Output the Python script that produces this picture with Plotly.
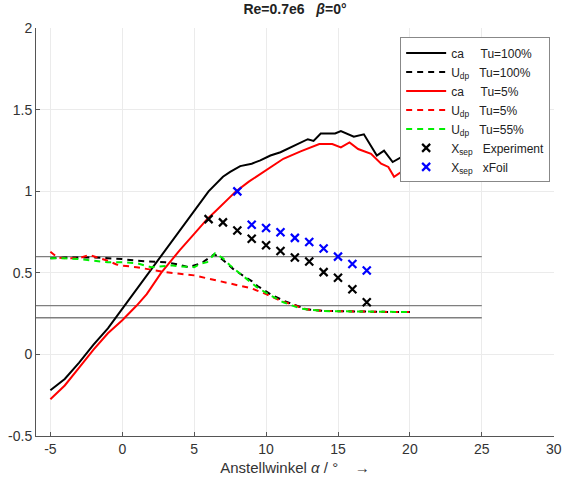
import plotly.graph_objects as go

# --- lift coefficient ca ---
alpha_ca_tu100 = [-5, -4, -3, -2, -1, -0.5, 1, 2, 3, 4, 5, 6, 7, 7.5, 8.2, 9, 9.6, 10.3, 11, 11.5,
                  12, 12.4, 12.9, 13.3, 13.8, 14.8, 15.2, 16.1, 16.8, 17.7, 18.2, 18.8, 19.4, 20]
ca_tu100 = [-0.22, -0.15, -0.05, 0.06, 0.16, 0.22, 0.40, 0.52, 0.64, 0.76, 0.88, 1.00, 1.09, 1.12,
            1.155, 1.17, 1.19, 1.22, 1.24, 1.26, 1.28, 1.30, 1.32, 1.31, 1.355, 1.355, 1.37, 1.335,
            1.35, 1.22, 1.25, 1.18, 1.21, 1.22]

alpha_ca_tu5 = [-5, -4, -3, -2, -1, 0, 1, 1.7, 2.7, 4, 5, 5.9, 6.5, 7.9, 8.8, 9.8, 11.2, 12.4, 13.7,
                14.6, 15.2, 15.8, 16.4, 17.3, 18, 18.5, 18.9, 19.4, 20]
ca_tu5 = [-0.275, -0.19, -0.08, 0.03, 0.13, 0.21, 0.30, 0.37, 0.50, 0.64, 0.74, 0.83, 0.88, 1.00,
          1.06, 1.12, 1.20, 1.245, 1.29, 1.29, 1.27, 1.30, 1.26, 1.23, 1.17, 1.15, 1.09, 1.12, 1.13]

# --- U_dp ---
alpha_udp_tu100 = [-5, -4, -3, -2, -1, 0, 1, 2, 3, 4, 4.6, 5.5, 6.4, 7, 7.7, 8.2, 9, 9.4, 10.3, 11.2,
                   12.1, 12.8, 14, 15, 16, 17, 18, 19, 20]
udp_tu100 = [0.59, 0.595, 0.595, 0.595, 0.59, 0.585, 0.575, 0.57, 0.565, 0.55, 0.535, 0.56, 0.615,
             0.58, 0.525, 0.495, 0.45, 0.42, 0.37, 0.33, 0.30, 0.277, 0.267, 0.265, 0.265, 0.263,
             0.262, 0.26, 0.26]

alpha_udp_tu5 = [-5, -4.5, -4, -3, -2.3, -1.5, -1, -0.4, 0, 1, 2, 3, 4, 5, 6, 7, 7.5, 8, 9, 10, 11,
                 12, 12.8, 14, 15, 16, 17, 18, 19, 20]
udp_tu5 = [0.63, 0.595, 0.59, 0.59, 0.61, 0.59, 0.575, 0.552, 0.545, 0.535, 0.52, 0.505, 0.495,
           0.485, 0.465, 0.445, 0.435, 0.425, 0.405, 0.37, 0.33, 0.30, 0.277, 0.267, 0.265, 0.265,
           0.263, 0.262, 0.26, 0.26]

alpha_udp_tu55 = [-5, -4, -3, -2, -1, 0, 1, 2, 3, 3.5, 4, 5, 5.4, 5.9, 6.45, 7, 7.5, 8.2, 9.35,
                  10.3, 11.2, 12.4, 13.3, 14, 15, 16, 17, 18, 19, 20]
udp_tu55 = [0.59, 0.59, 0.585, 0.575, 0.565, 0.565, 0.56, 0.535, 0.54, 0.546, 0.54, 0.535, 0.556,
            0.566, 0.62, 0.59, 0.546, 0.495, 0.413, 0.362, 0.32, 0.281, 0.27, 0.266, 0.265, 0.264,
            0.263, 0.262, 0.26, 0.26]

# --- separation point X_sep ---
alpha_xsep_exp = [6, 7, 8, 9, 10, 11, 12, 13, 14, 15, 16, 17]
xsep_exp = [0.83, 0.81, 0.76, 0.71, 0.67, 0.635, 0.595, 0.57, 0.505, 0.47, 0.40, 0.32]

alpha_xsep_xfoil = [8, 9, 10, 11, 12, 13, 14, 15, 16, 17]
xsep_xfoil = [1.0, 0.795, 0.775, 0.75, 0.715, 0.69, 0.65, 0.60, 0.555, 0.515]

# reference levels (horizontal lines)
ref_levels = [0.6, 0.3, 0.225]
ref_alpha_span = [-6, 25]

# axes
x_range = [-6, 30.02]
y_range = [-0.5, 2.002]
x_ticks = [-5, 0, 5, 10, 15, 20, 25, 30]
x_ticktext = ["-5", "0", "5", "10", "15", "20", "25", "30"]
y_ticks = [-0.5, 0, 0.5, 1, 1.5, 2]
y_ticktext = ["-0.5", "0", "0.5", "1", "1.5", "2"]

NB = "&nbsp;"
fig = go.Figure()

for lvl in ref_levels:
    fig.add_trace(go.Scatter(x=ref_alpha_span, y=[lvl, lvl], mode="lines",
                             line=dict(color="#7f7f7f", width=1.3),
                             showlegend=False, hoverinfo="skip"))

fig.add_trace(go.Scatter(x=alpha_ca_tu100, y=ca_tu100, mode="lines",
                         name="ca" + NB * 5 + "Tu=100%",
                         line=dict(color="black", width=2)))
fig.add_trace(go.Scatter(x=alpha_udp_tu100, y=udp_tu100, mode="lines",
                         name="U<sub>dp</sub>" + NB * 3 + "Tu=100%",
                         line=dict(color="black", width=2, dash="6px,5px")))
fig.add_trace(go.Scatter(x=alpha_ca_tu5, y=ca_tu5, mode="lines",
                         name="ca" + NB * 5 + "Tu=5%",
                         line=dict(color="#ff0000", width=2)))
fig.add_trace(go.Scatter(x=alpha_udp_tu5, y=udp_tu5, mode="lines",
                         name="U<sub>dp</sub>" + NB * 3 + "Tu=5%",
                         line=dict(color="#ff0000", width=2, dash="6px,5px")))
fig.add_trace(go.Scatter(x=alpha_udp_tu55, y=udp_tu55, mode="lines",
                         name="U<sub>dp</sub>" + NB * 3 + "Tu=55%",
                         line=dict(color="#00ee00", width=2, dash="6px,5px")))
fig.add_trace(go.Scatter(x=alpha_xsep_exp, y=xsep_exp, mode="markers",
                         name="X<sub>sep</sub>" + NB * 3 + "Experiment",
                         marker=dict(symbol="x-thin", size=8, color="black",
                                     line=dict(color="black", width=2.2))))
fig.add_trace(go.Scatter(x=alpha_xsep_xfoil, y=xsep_xfoil, mode="markers",
                         name="X<sub>sep</sub>" + NB * 3 + "xFoil",
                         marker=dict(symbol="x-thin", size=8, color="#0000ff",
                                     line=dict(color="#0000ff", width=2.2))))

axis_common = dict(showgrid=True, gridcolor="#ebebeb", gridwidth=1,
                   showline=True, linecolor="#555555", linewidth=1,
                   ticks="inside", ticklen=4, tickcolor="#555555",
                   zeroline=False, mirror=False, automargin=False,
                   tickfont=dict(family="Liberation Sans, Arial, sans-serif", size=14,
                                 color="#333333"))

fig.update_layout(
    width=562, height=483,
    margin=dict(l=36, r=8, t=28, b=47),
    paper_bgcolor="white", plot_bgcolor="white",
    font=dict(family="Liberation Sans, Arial, sans-serif", color="#222222"),
    title=dict(text="<b>Re=0.7e6&nbsp;&nbsp;&nbsp;<i>β</i>=0°</b>",
               x=0.5, xref="paper", xanchor="center",
               y=1, yref="container", yanchor="top", pad=dict(t=4),
               font=dict(size=14, color="#222222")),
    xaxis=dict(range=x_range, tickvals=x_ticks, ticktext=x_ticktext,
               title=dict(text="Anstellwinkel <i>α</i> / °&nbsp;&nbsp;&nbsp;&nbsp;→",
                          font=dict(size=15, color="#333333"), standoff=6),
               **axis_common),
    yaxis=dict(range=y_range, tickvals=y_ticks, ticktext=y_ticktext, **axis_common),
    legend=dict(x=0.703, y=0.977, xanchor="left", yanchor="top",
                bgcolor="white", bordercolor="#888888", borderwidth=1,
                font=dict(size=12, color="#222222"),
                itemwidth=40, tracegroupgap=0),
    showlegend=True,
)

fig.write_html("out.html")
